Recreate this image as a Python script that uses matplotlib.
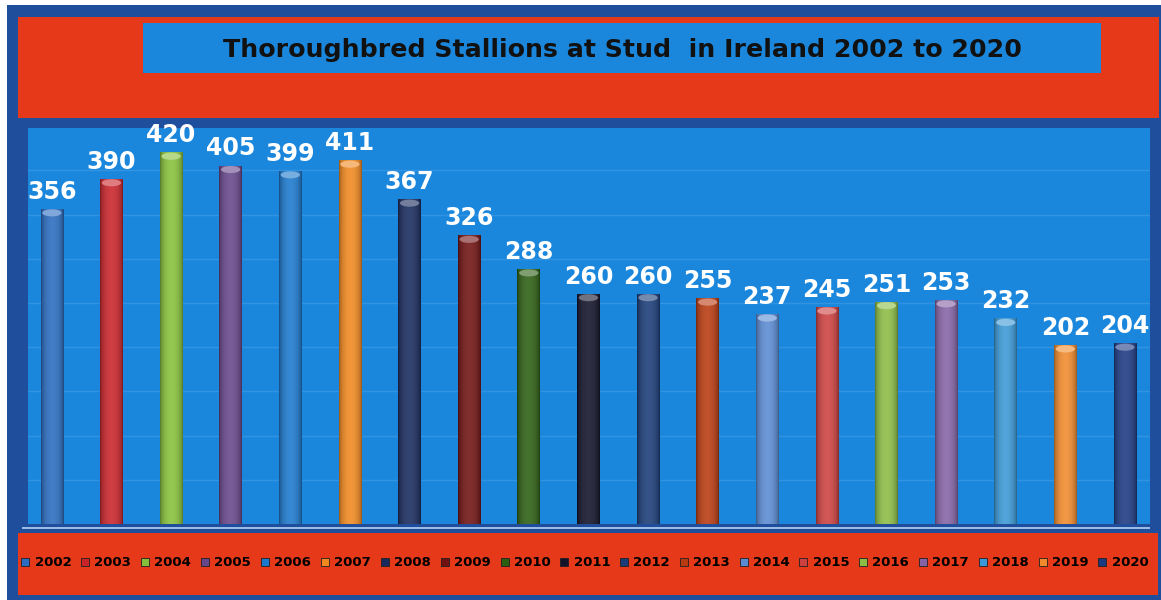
import numpy as np
import matplotlib.pyplot as plt
from matplotlib.patches import Rectangle, Ellipse
from matplotlib.lines import Line2D
from matplotlib.colors import to_rgb

# Data
years = ['2002', '2003', '2004', '2005', '2006', '2007', '2008', '2009', '2010', '2011',
         '2012', '2013', '2014', '2015', '2016', '2017', '2018', '2019', '2020']
stallions = [356, 390, 420, 405, 399, 411, 367, 326, 288, 260,
             260, 255, 237, 245, 251, 253, 232, 202, 204]
bar_colors = ['#2a6cc0', '#c8242a', '#86c03a', '#66468a', '#1b78cc', '#f08820',
              '#182a5c', '#701212', '#2c5e12', '#12122a', '#1a3c78', '#b83a10',
              '#5a8ad2', '#cc4040', '#8cbc44', '#8462a4', '#3a98d6', '#f08a2c',
              '#1c3a82']
title = 'Thoroughbred Stallions at Stud  in Ireland 2002 to 2020'

# Style colours
red_bg = '#e6391a'
blue_bg = '#1b87dc'
frame_blue = '#1f4f9c'

W, H = 1161, 600
fig = plt.figure(figsize=(W / 100, H / 100), dpi=100)
fig.patch.set_facecolor('white')

def fig_rect(x0, y0, x1, y1, color, z=-10):
    # rectangle given in pixel coords (y from top)
    fig.patches.append(Rectangle((x0 / W, 1 - y1 / H), (x1 - x0) / W, (y1 - y0) / H,
                                 transform=fig.transFigure, facecolor=color,
                                 edgecolor='none', zorder=z))

fig_rect(7, 5, W, H, frame_blue, -12)        # outer frame
fig_rect(18, 17, 1159, 118, red_bg)          # header band
fig_rect(143, 23, 1101, 73, blue_bg, -9)     # title box
fig_rect(18, 533, 1158, 595, red_bg)         # legend band
fig_rect(22, 527, 1150, 529, '#9bbbe4')      # floor edge

fig.text(622 / W, 1 - 50 / H, title, ha='center', va='center',
         fontsize=18.2, fontweight='bold', color='#111111')

# Plot area
ax = fig.add_axes([28 / W, 1 - 524 / H, (1150 - 28) / W, (524 - 128) / H])
ax.set_facecolor(blue_bg)
x = np.arange(len(years))
width = 0.38
bars = ax.bar(x, stallions, width=width, color=bar_colors, zorder=2)

ax.set_xlim(-0.4, len(years) - 0.58)
ax.set_ylim(0, 448)
ax.set_autoscale_on(False)

# gridlines
for g in range(50, 450, 50):
    ax.axhline(g, color='#3193e2', lw=1, zorder=1)

# cylinder shading on each bar
t = np.linspace(0, 1, 64)
f = np.sin(np.pi * t) ** 0.5
for b, c in zip(bars, bar_colors):
    rgb = np.array(to_rgb(c))
    dark = rgb * 0.6
    light = rgb + (1 - rgb) * 0.12
    grad = dark[None, :] + (light - dark)[None, :] * f[:, None]
    x0, w, h = b.get_x(), b.get_width(), b.get_height()
    ax.imshow(grad[None, :, :], extent=[x0, x0 + w, 0, h], aspect='auto',
              zorder=3, interpolation='bilinear')
    cap = rgb + (1 - rgb) * 0.4
    ax.add_patch(Ellipse((x0 + w / 2, h - 4), w * 0.85, 8, facecolor=cap,
                         edgecolor='none', zorder=4))
    ax.annotate(str(int(h)), (x0 + w / 2, h), xytext=(0, 4),
                textcoords='offset points', ha='center', va='bottom',
                fontsize=17, fontweight='bold', color='white', zorder=5)

ax.set_xticks([])
ax.set_yticks([])
for s in ax.spines.values():
    s.set_visible(False)

# Legend
handles = [Line2D([], [], marker='s', linestyle='none', markersize=6,
                  markerfacecolor=c, markeredgecolor='#202020', markeredgewidth=0.6)
           for c in bar_colors]
fig.legend(handles, years, loc='center left', bbox_to_anchor=(20 / W, 1 - 563 / H),
           ncol=len(years), frameon=False, borderaxespad=0, borderpad=0,
           handlelength=0.8, handletextpad=0.3, columnspacing=0.65,
           prop={'weight': 'bold', 'size': 9.5})

fig.savefig('out.png', dpi=100)
